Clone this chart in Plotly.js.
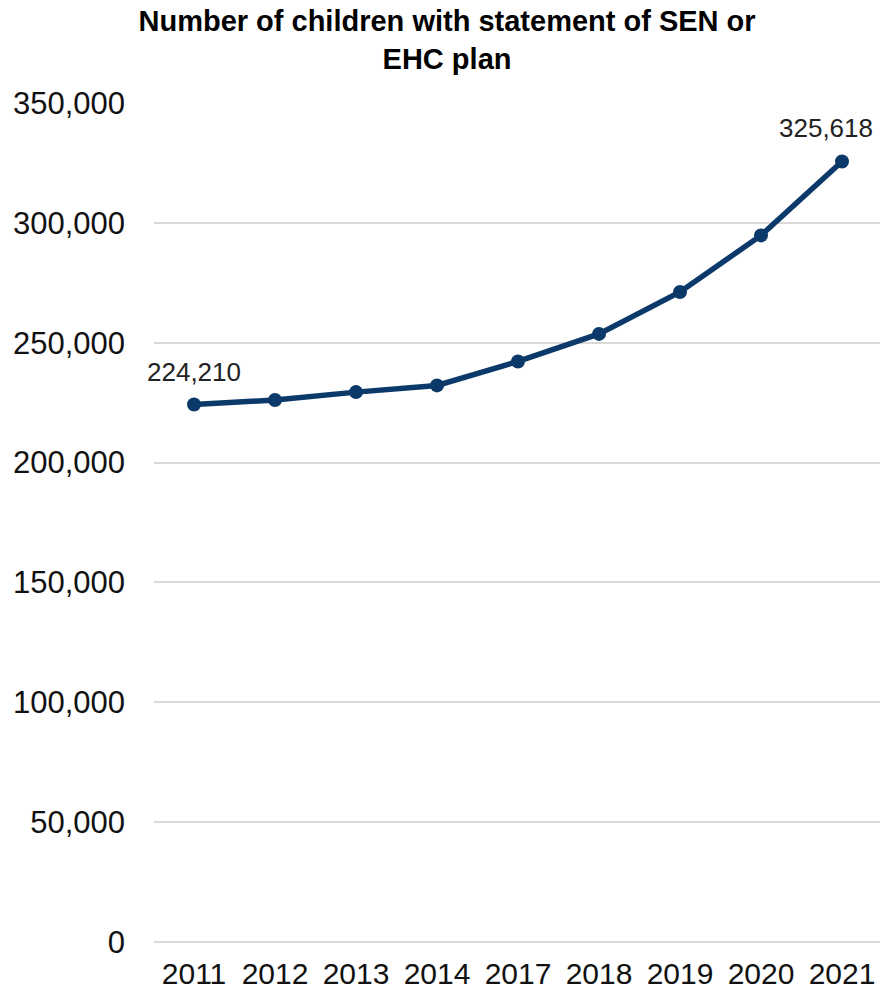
<!DOCTYPE html>
<html>
<head>
<meta charset="utf-8">
<script src="https://cdn.plot.ly/plotly-3.0.1.min.js"></script>
<style>html,body{margin:0;padding:0;background:#fff;}#chart{width:880px;height:994px;}</style>
</head>
<body>
<div id="chart"></div>
<script>
const years = ["2011", "2012", "2013", "2014", "2017", "2018", "2019", "2020", "2021"];
const children = [224210, 226125, 229390, 232190, 242185, 253680, 271165, 294758, 325618];
const labelledYears = ["2011", "2021"];
const labelShifts = [0, -16];

const lineColor = "#0b3a6a";

const trace = {
  x: years,
  y: children,
  type: "scatter",
  mode: "lines+markers",
  line: {color: lineColor, width: 5.5},
  marker: {color: lineColor, size: 14},
  hoverinfo: "x+y"
};

const annotations = labelledYears.map((yr, i) => {
  const idx = years.indexOf(yr);
  return {
    x: idx, y: children[idx], xref: "x", yref: "y",
    text: children[idx].toLocaleString("en-GB"),
    showarrow: false, yanchor: "bottom", yshift: 16, xshift: labelShifts[i],
    font: {family: "Liberation Sans, Arial, sans-serif", size: 26, color: "#222"}
  };
});

const layout = {
  width: 880, height: 994,
  margin: {l: 154, r: 0, t: 103, b: 52},
  paper_bgcolor: "#fff", plot_bgcolor: "#fff",
  showlegend: false,
  title: {
    text: "<b>Number of children with statement of SEN or<br>EHC plan</b>",
    font: {family: "Liberation Sans, Arial, sans-serif", size: 29, color: "#000"},
    xref: "container", x: 0.508, xanchor: "center",
    yref: "container", y: 0.969, yanchor: "top"
  },
  xaxis: {
    type: "category",
    range: [-0.494, 8.469],
    showgrid: false, zeroline: false, showline: false,
    ticks: "",
    tickfont: {family: "Liberation Sans Narrow, Arial Narrow, Liberation Sans, sans-serif", size: 30, color: "#111"},
    ticklabelstandoff: 11
  },
  yaxis: {
    range: [0, 350000],
    tickvals: [0, 50000, 100000, 150000, 200000, 250000, 300000, 350000],
    ticktext: ["0", "50,000", "100,000", "150,000", "200,000", "250,000", "300,000", "350,000"],
    showgrid: true, gridcolor: "#d9d9d9", gridwidth: 2,
    zeroline: true, zerolinecolor: "#d9d9d9", zerolinewidth: 2,
    showline: false, ticks: "",
    tickfont: {family: "Liberation Sans, Arial, sans-serif", size: 31, color: "#111"},
    ticklabelstandoff: 28
  },
  annotations: annotations
};

Plotly.newPlot("chart", [trace], layout, {displayModeBar: false, staticPlot: true});
</script>
</body>
</html>
